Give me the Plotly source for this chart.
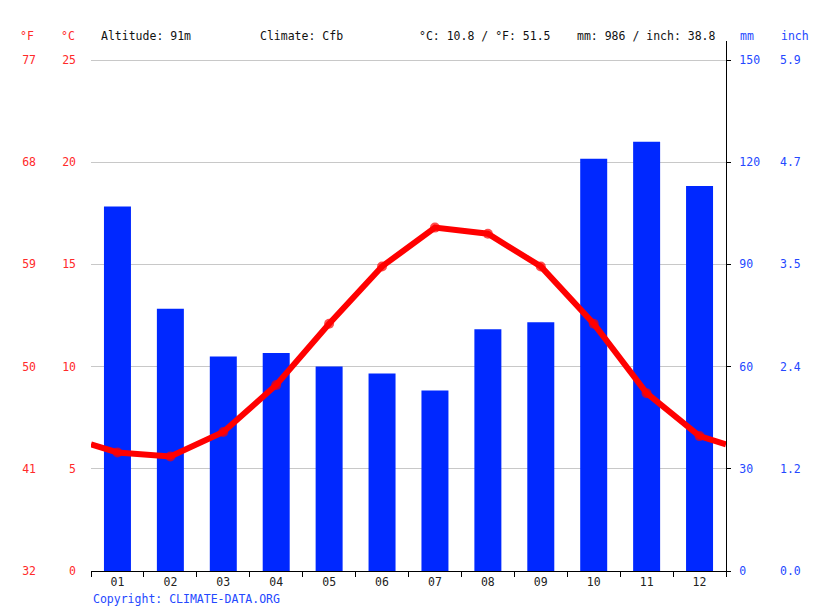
import plotly.graph_objects as go

# monthly climate values
months = ["01", "02", "03", "04", "05", "06", "07", "08", "09", "10", "11", "12"]
precip_mm = [107, 77, 63, 64, 60, 58, 53, 71, 73, 121, 126, 113]
temp_c = [5.8, 5.6, 6.8, 9.1, 12.1, 14.9, 16.8, 16.5, 14.9, 12.1, 8.7, 6.6]
temp_edge_start = 6.2   # line value at the left border
temp_edge_end = 6.2     # line value at the right border

temp_ticks = [0, 5, 10, 15, 20, 25]
temp_ticks_f = ["32", "41", "50", "59", "68", "77"]
mm_ticks = [0, 30, 60, 90, 120, 150]
inch_ticks = ["0.0", "1.2", "2.4", "3.5", "4.7", "5.9"]

header_left = ["Altitude: 91m", "Climate: Cfb", "°C: 10.8 / °F: 51.5", "mm: 986 / inch: 38.8"]

W, H = 815, 611
L, R, T, B = 91, 726, 41, 571   # plot area in pixels
top_val = 60                    # pixel row of the top gridline

FONT = "DejaVu Sans Mono"
FS = 11.5
RED = "#ff0000"
RED_TXT = "#ff2a2a"
BLUE = "#0028ff"
BLUE_TXT = "#2448ff"

temp_max = 25 * (B - T) / (B - top_val)
mm_max = 150 * (B - T) / (B - top_val)


def px(x):
    return (x - L) / (R - L)


def py(y):
    return (B - y) / (B - T)


fig = go.Figure()

fig.add_trace(go.Bar(
    x=months, y=precip_mm, marker_color=BLUE, marker_line_width=0,
    width=0.51, xaxis="x", yaxis="y", hoverinfo="y",
))

line_x = [0.5] + list(range(1, 13)) + [12.5]
line_y = [temp_edge_start] + temp_c + [temp_edge_end]
fig.add_trace(go.Scatter(
    x=line_x, y=line_y, mode="lines+markers",
    line=dict(color=RED, width=6),
    marker=dict(color=RED, size=[0] + [10] * 12 + [0], line_width=0),
    xaxis="x2", yaxis="y2", cliponaxis=True,
))
# empty carriers so the °F and inch scales get drawn
fig.add_trace(go.Scatter(x=line_x, y=line_y, mode="none", xaxis="x2", yaxis="y3",
                         hoverinfo="skip"))
fig.add_trace(go.Scatter(x=months, y=precip_mm, mode="none", xaxis="x", yaxis="y4",
                         hoverinfo="skip"))

fig.update_layout(
    width=W, height=H,
    margin=dict(l=L, r=W - R, t=T, b=H - B, pad=0, autoexpand=False),
    paper_bgcolor="white", plot_bgcolor="white",
    showlegend=False,
    font=dict(family=FONT, size=FS, color="#222222"),
    xaxis=dict(
        type="category", categoryorder="array", categoryarray=months,
        tickson="boundaries", ticks="outside", ticklen=5, tickcolor="black",
        showline=True, linecolor="black", linewidth=1,
        showgrid=False, zeroline=False, fixedrange=True, automargin=False,
        tickfont=dict(family=FONT, size=FS, color="#222222"),
    ),
    xaxis2=dict(
        overlaying="x", range=[0.5, 12.5], visible=False, fixedrange=True,
    ),
    yaxis=dict(
        range=[0, mm_max], tickvals=mm_ticks, side="right",
        showline=True, linecolor="black", linewidth=1,
        ticks="outside", ticklen=4, tickcolor="black",
        showgrid=True, gridcolor="#c8c8c8", gridwidth=1, zeroline=False,
        tickfont=dict(family=FONT, size=FS, color=BLUE_TXT),
        ticklabelstandoff=6, fixedrange=True, automargin=False,
    ),
    yaxis2=dict(
        overlaying="y", side="left", range=[0, temp_max], tickvals=temp_ticks,
        showgrid=False, zeroline=False, showline=False, ticks="",
        tickfont=dict(family=FONT, size=FS, color=RED_TXT),
        ticklabelstandoff=14, fixedrange=True, automargin=False,
    ),
    yaxis3=dict(
        overlaying="y", side="left", anchor="free", position=0,
        range=[0, temp_max], tickvals=temp_ticks, ticktext=temp_ticks_f,
        showgrid=False, zeroline=False, showline=False, ticks="",
        tickfont=dict(family=FONT, size=FS, color=RED_TXT),
        ticklabelstandoff=55, fixedrange=True, automargin=False,
    ),
    yaxis4=dict(
        overlaying="y", side="right", anchor="free", position=1,
        range=[0, mm_max], tickvals=mm_ticks, ticktext=inch_ticks,
        showgrid=False, zeroline=False, showline=False, ticks="",
        tickfont=dict(family=FONT, size=FS, color=BLUE_TXT),
        ticklabelstandoff=53, fixedrange=True, automargin=False,
    ),
)

annotations = []
head_y = py(36)
for text, x0 in zip(header_left, [99, 258, 417, 575]):
    annotations.append(dict(text=text, x=px(x0), y=head_y, xanchor="left",
                            font=dict(color="#111111")))
for text, x0, anchor, col in [("°F", 36, "right", RED_TXT), ("°C", 77, "right", RED_TXT),
                               ("mm", 738, "left", BLUE_TXT), ("inch", 779, "left", BLUE_TXT)]:
    annotations.append(dict(text=text, x=px(x0), y=head_y, xanchor=anchor, font=dict(color=col)))
annotations.append(dict(text="Copyright: CLIMATE-DATA.ORG", x=px(L), y=py(599),
                        xanchor="left", font=dict(color=BLUE_TXT)))

for a in annotations:
    a.update(xref="paper", yref="paper", yanchor="middle", showarrow=False)
    a["font"].update(family=FONT, size=FS)
fig.update_layout(annotations=annotations)

# drop the default page margin so the chart sits at the window's corner
fig.write_html("out.html", config={"displayModeBar": False},
               post_script="document.body.style.margin = '0';")
